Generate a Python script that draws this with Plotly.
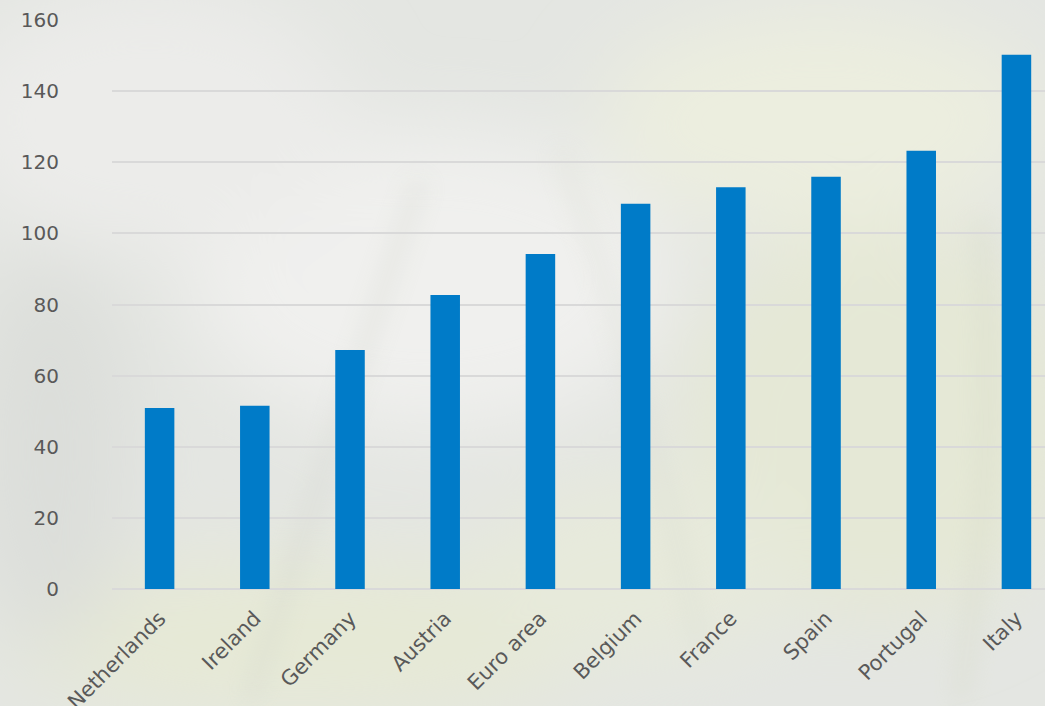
import plotly.graph_objects as go
import base64

countries = ["Netherlands", "Ireland", "Germany", "Austria", "Euro area",
             "Belgium", "France", "Spain", "Portugal", "Italy"]
values = [50.9, 51.5, 67.2, 82.7, 94.2, 108.3, 113.0, 115.9, 123.2, 150.2]
y_ticks = [0, 20, 40, 60, 80, 100, 120, 140, 160]

bar_color = "#007BC8"
text_color = "#595959"
grid_color = "#d9d9d9"

# soft blurred background to evoke the photo backdrop
svg = """<svg xmlns='http://www.w3.org/2000/svg' width='1045' height='706' viewBox='0 0 1045 706'>
<defs><filter id='b' x='-50%' y='-50%' width='200%' height='200%'><feGaussianBlur stdDeviation='40'/></filter>
<filter id='s' x='-50%' y='-50%' width='200%' height='200%'><feGaussianBlur stdDeviation='12'/></filter></defs>
<rect width='1045' height='706' fill='#e4e6e2'/>
<g filter='url(#b)'>
<ellipse cx='430' cy='280' rx='240' ry='150' fill='#f0f0ee'/>
<ellipse cx='150' cy='120' rx='200' ry='130' fill='#ececea'/>
<ellipse cx='820' cy='120' rx='220' ry='110' fill='#eceedf'/>
<ellipse cx='880' cy='420' rx='200' ry='200' fill='#e5e8d6'/>
<ellipse cx='300' cy='640' rx='300' ry='80' fill='#e6e9d6'/>
<ellipse cx='50' cy='450' rx='80' ry='200' fill='#dcdeda'/>
<ellipse cx='640' cy='570' rx='160' ry='90' fill='#e7eadb'/>
</g>
<g filter='url(#s)' opacity='0.45'>
<path d='M250 700 Q330 450 420 180' stroke='#d0d3cb' stroke-width='12' fill='none'/>
<path d='M700 650 Q650 400 560 150' stroke='#d6d9ce' stroke-width='10' fill='none'/>
<path d='M960 700 Q1000 450 980 220' stroke='#d5d9c5' stroke-width='14' fill='none'/>
</g>
</svg>"""
svg_uri = "data:image/svg+xml;base64," + base64.b64encode(svg.encode()).decode()

fig = go.Figure()
fig.add_trace(go.Bar(
    x=countries, y=values,
    marker=dict(color=bar_color, line=dict(width=0)),
    width=0.31,
))

fig.update_layout(
    width=1045, height=706,
    margin=dict(l=112, r=0, t=20, b=117),
    paper_bgcolor="#e4e6e2",
    plot_bgcolor="rgba(0,0,0,0)",
    font=dict(family="DejaVu Sans, Verdana, sans-serif", size=20, color=text_color),
    showlegend=False,
    images=[dict(source=svg_uri, xref="paper", yref="paper",
                 x=-112/933, y=1 + 20/569, sizex=1045/933, sizey=706/569,
                 xanchor="left", yanchor="top", sizing="stretch", layer="below")],
    xaxis=dict(
        range=[-0.5, 9.3],
        tickangle=-45,
        showgrid=False,
        showline=False,
        ticks="",
        automargin=False,
        ticklabelstandoff=12,
        tickfont=dict(size=21, color=text_color),
    ),
    yaxis=dict(
        range=[0, 160],
        tickvals=y_ticks,
        showgrid=True,
        gridcolor=grid_color,
        gridwidth=1.5,
        zeroline=True,
        zerolinecolor=grid_color,
        zerolinewidth=1.5,
        ticks="",
        automargin=False,
        ticklabelstandoff=52,
        tickfont=dict(size=20, color=text_color),
    ),
)

fig.write_html("out.html")
